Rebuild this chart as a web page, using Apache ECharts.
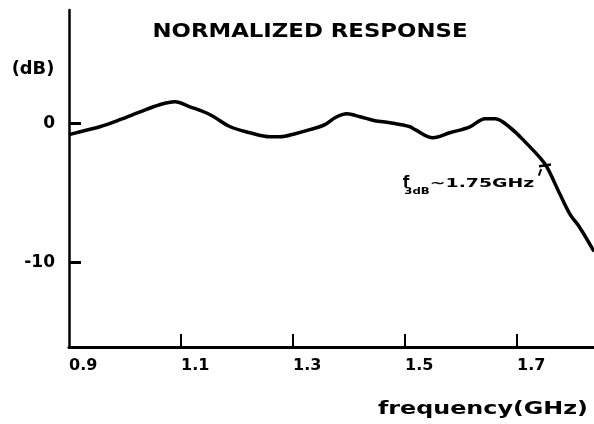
<!DOCTYPE html>
<html>
<head>
<meta charset="utf-8">
<style>
  html, body { margin: 0; padding: 0; background: #fff; }
  #chart { width: 594px; height: 424px; }
</style>
<script src="https://cdn.jsdelivr.net/npm/echarts@6/dist/echarts.min.js"></script>
</head>
<body>
<div id="chart"></div>
<script>
// Normalized amplifier response versus frequency
const frequency = [0.900, 0.920, 0.955, 0.991, 1.027, 1.062, 1.089, 1.116, 1.152, 1.188,
                   1.223, 1.259, 1.277, 1.304, 1.330, 1.357, 1.375, 1.396, 1.420, 1.446,
                   1.473, 1.509, 1.518, 1.550, 1.580, 1.616, 1.643, 1.661, 1.688, 1.714,
                   1.741, 1.754, 1.777, 1.795, 1.812, 1.8375];
const responseDb = [-0.79, -0.58, -0.22, 0.29, 0.86, 1.37, 1.58, 1.22, 0.65, -0.22,
                    -0.65, -0.94, -0.94, -0.72, -0.43, -0.07, 0.43, 0.72, 0.50, 0.22,
                    0.07, -0.22, -0.43, -1.01, -0.65, -0.22, 0.36, 0.36, -0.29, -1.29,
                    -2.45, -3.17, -5.11, -6.55, -7.48, -9.21];

const xTicks = [1.1, 1.3, 1.5, 1.7];
const xTickLabels = [0.9, 1.1, 1.3, 1.5, 1.7];
const yTicks = [0, -10];

// 3 dB corner
const cornerFreq = 1.75;
const cornerDb = -3;

const X_MIN = 0.9, X_MAX = 1.8375;
const Y_MIN = -16.1, Y_MAX = 8.2;
const INK = '#000';
const FONT = 'DejaVu Sans';

const chart = echarts.init(document.getElementById('chart'));

const textItems = [
  {
    type: 'text', x: 310, y: 32, scaleX: 1.14,
    style: { text: 'NORMALIZED RESPONSE', font: `bold 20px "${FONT}"`, fill: INK, align: 'center', verticalAlign: 'middle' }
  },
  {
    type: 'text', x: 33, y: 70, scaleX: 1.05,
    style: { text: '(dB)', font: `bold 17px "${FONT}"`, fill: INK, align: 'center', verticalAlign: 'middle' }
  },
  {
    type: 'text', x: 483, y: 410, scaleX: 1.4,
    style: { text: 'frequency(GHz)', font: `bold 17px "${FONT}"`, fill: INK, align: 'center', verticalAlign: 'middle' }
  },
  {
    type: 'text', x: 406, y: 183,
    style: { text: 'f', font: `bold 15px "${FONT}"`, fill: INK, align: 'center', verticalAlign: 'middle' }
  },
  {
    type: 'text', x: 417, y: 192, scaleX: 1.3,
    style: { text: '3dB', font: `bold 9px "${FONT}"`, fill: INK, align: 'center', verticalAlign: 'middle' }
  },
  {
    type: 'text', x: 482, y: 184, scaleX: 1.45,
    style: { text: '~1.75GHz', font: `bold 13px "${FONT}"`, fill: INK, align: 'center', verticalAlign: 'middle' }
  }
];

chart.setOption({
  animation: false,
  grid: { left: 69, right: 0, top: 10, bottom: 77 },
  xAxis: {
    type: 'value', min: X_MIN, max: X_MAX,
    axisLine: { show: true, onZero: false, lineStyle: { color: INK, width: 3 } },
    axisTick: { show: true, inside: true, length: 13, lineStyle: { color: INK, width: 2 }, customValues: xTicks },
    axisLabel: {
      customValues: xTickLabels,
      formatter: v => v.toFixed(1),
      color: INK, fontFamily: FONT, fontWeight: 'bold', fontSize: 16,
      align: 'left', margin: 11
    },
    splitLine: { show: false }
  },
  yAxis: {
    type: 'value', min: Y_MIN, max: Y_MAX,
    axisLine: { show: true, onZero: false, lineStyle: { color: INK, width: 2.5 } },
    axisTick: { show: true, inside: true, length: 12, lineStyle: { color: INK, width: 3 }, customValues: yTicks },
    axisLabel: {
      customValues: yTicks,
      color: INK, fontFamily: FONT, fontWeight: 'bold', fontSize: 17,
      margin: 14
    },
    splitLine: { show: false }
  },
  series: [
    {
      type: 'line',
      data: frequency.map((f, i) => [f, responseDb[i]]),
      smooth: 0.35,
      symbol: 'none',
      lineStyle: { color: INK, width: 3.5 },
      markPoint: {
        silent: true,
        label: { show: false },
        itemStyle: { color: INK },
        data: [
          // crossing mark on the curve at the 3 dB point
          { coord: [cornerFreq, cornerDb], symbol: 'rect', symbolSize: [12, 2.5], symbolRotate: 8 },
          // short pointer stroke from the label
          { coord: [cornerFreq, cornerDb], symbol: 'rect', symbolSize: [2, 7], symbolRotate: -20, symbolOffset: [-5, 7] }
        ]
      }
    },
    {
      // upright frequency ticks standing on the bottom axis
      type: 'scatter',
      data: xTicks.map(f => [f, Y_MIN]),
      symbol: 'rect',
      symbolSize: [2, 13],
      symbolOffset: [0, -6.5],
      itemStyle: { color: INK, opacity: 1 },
      clip: false,
      silent: true,
      z: 10
    }
  ],
  graphic: textItems
});

// the same ticks as plain lines, positioned through the axis scales
const tickLines = xTicks.map(f => {
  const [tx, ty] = chart.convertToPixel({ xAxisIndex: 0, yAxisIndex: 0 }, [f, Y_MIN]);
  return {
    type: 'line', z: 100,
    shape: { x1: tx, y1: ty - 1, x2: tx, y2: ty - 13 },
    style: { stroke: INK, lineWidth: 2 }
  };
});

chart.setOption({ graphic: textItems.concat(tickLines) }, { replaceMerge: ['graphic'] });
</script>
</body>
</html>
